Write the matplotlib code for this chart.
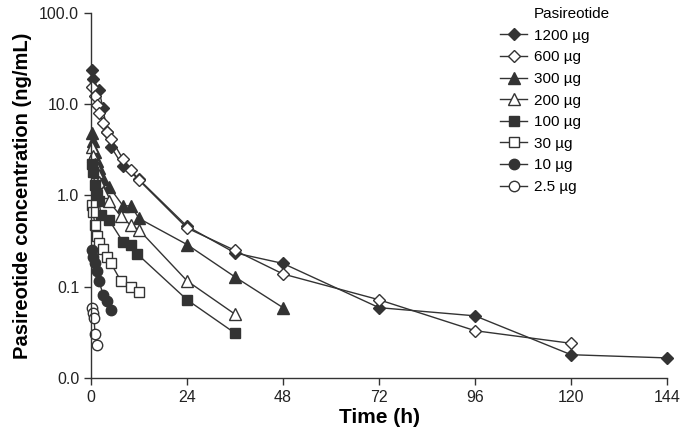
import numpy as np
import matplotlib
matplotlib.use("Agg")
import matplotlib.pyplot as plt
from matplotlib.lines import Line2D
from matplotlib.ticker import FixedLocator, FixedFormatter, NullLocator

plt.rcParams['font.family'] = ['Liberation Sans', 'DejaVu Sans']

# values (time in h, concentration in ng/mL)
t_1200 = [0.25, 0.5, 2, 3, 4, 5, 8, 12, 24, 36, 48, 72, 96, 120, 144]
c_1200 = [23.5, 19.0, 14.3, 9.0, 5.0, 3.4, 2.1, 1.5, 0.46, 0.235, 0.18, 0.059, 0.048, 0.018, 0.0166]

t_600 = [0.25, 1, 1.5, 2, 3, 4, 5, 8, 10, 12, 24, 36, 48, 72, 96, 120]
c_600 = [15.3, 12.2, 9.8, 8.0, 6.3, 5.0, 4.2, 2.5, 1.9, 1.47, 0.44, 0.25, 0.138, 0.072, 0.033, 0.024]

t_300 = [0.25, 0.5, 1, 1.5, 2, 3, 4.5, 8, 10, 12, 24, 36, 48]
c_300 = [4.9, 4.0, 3.0, 2.4, 2.0, 1.5, 1.25, 0.77, 0.77, 0.56, 0.29, 0.128, 0.059]

t_200 = [0.25, 0.5, 1, 1.5, 2, 3, 4.5, 7.5, 10, 12, 24, 36]
c_200 = [3.4, 2.7, 2.2, 1.8, 1.4, 1.1, 0.86, 0.59, 0.47, 0.42, 0.116, 0.05]

t_100 = [0.25, 0.5, 1, 1.5, 2, 2.5, 4.5, 8, 10, 11.5, 24, 36]
c_100 = [2.2, 1.8, 1.3, 1.0, 0.86, 0.61, 0.54, 0.31, 0.29, 0.23, 0.072, 0.031]

t_30 = [0.25, 0.5, 1, 1.5, 2, 3, 4, 5, 7.5, 10, 12]
c_30 = [0.78, 0.66, 0.47, 0.36, 0.3, 0.26, 0.21, 0.18, 0.115, 0.1, 0.088]

t_10 = [0.25, 0.5, 1, 1.5, 2, 3, 4, 5]
c_10 = [0.25, 0.21, 0.18, 0.15, 0.116, 0.082, 0.07, 0.056]

t_2_5 = [0.25, 0.5, 0.75, 1.0, 1.5]
c_2_5 = [0.059, 0.052, 0.046, 0.030, 0.023]

labels = ['1200 µg', '600 µg', '300 µg', '200 µg', '100 µg', '30 µg', '10 µg', '2.5 µg']
times = [t_1200, t_600, t_300, t_200, t_100, t_30, t_10, t_2_5]
concs = [c_1200, c_600, c_300, c_200, c_100, c_30, c_10, c_2_5]
markers = ['D', 'D', '^', '^', 's', 's', 'o', 'o']
msizes = [6.3, 6.3, 8, 8, 7, 7, 7.5, 7.5]
filled = [True, False, True, False, True, False, True, False]

x_ticks = [0, 24, 48, 72, 96, 120, 144]
y_ticks = [0.01, 0.1, 1, 10, 100]
y_ticklabels = ['0.0', '0.1', '1.0', '10.0', '100.0']

dark = '#333333'

fig = plt.figure(figsize=(6.88, 4.37), dpi=100)
ax = fig.add_axes([0.1323, 0.135, 0.8372, 0.8353])

handles = []
for t, c, lab, m, ms, f in zip(times, concs, labels, markers, msizes, filled):
    h, = ax.plot(t, c, color=dark, lw=1.0, marker=m, ms=ms,
                 mfc=dark if f else 'white', mec=dark, mew=1.0,
                 label=lab, clip_on=False)
    handles.append(h)

ax.set_yscale('log')
ax.set_xlim(0, 144)
ax.set_ylim(0.01, 100)
ax.xaxis.set_major_locator(FixedLocator(x_ticks))
ax.yaxis.set_major_locator(FixedLocator(y_ticks))
ax.yaxis.set_major_formatter(FixedFormatter(y_ticklabels))
ax.yaxis.set_minor_locator(NullLocator())

for s in ['top', 'right']:
    ax.spines[s].set_visible(False)
for s in ['left', 'bottom']:
    ax.spines[s].set_color(dark)
    ax.spines[s].set_linewidth(1.0)
ax.tick_params(axis='both', direction='out', length=5, width=1, color=dark,
               labelsize=11.5, labelcolor='#222222')

ax.set_xlabel('Time (h)', fontsize=15, fontweight='bold', labelpad=2)
ax.set_ylabel('Pasireotide concentration (ng/mL)', fontsize=14.5, fontweight='bold', labelpad=5)

# legend title as a blank first row so it lines up with the labels
title_handle = Line2D([], [], linestyle='none', marker='none')
ax.legend([title_handle] + handles, ['Pasireotide'] + labels,
          loc='upper left', bbox_to_anchor=(500 / 688, 1 - 7 / 437),
          bbox_transform=fig.transFigure, frameon=False, fontsize=11,
          handlelength=1.77, handletextpad=0.45, labelspacing=0.5,
          borderaxespad=0, borderpad=0)

fig.savefig('out.png', dpi=100)
